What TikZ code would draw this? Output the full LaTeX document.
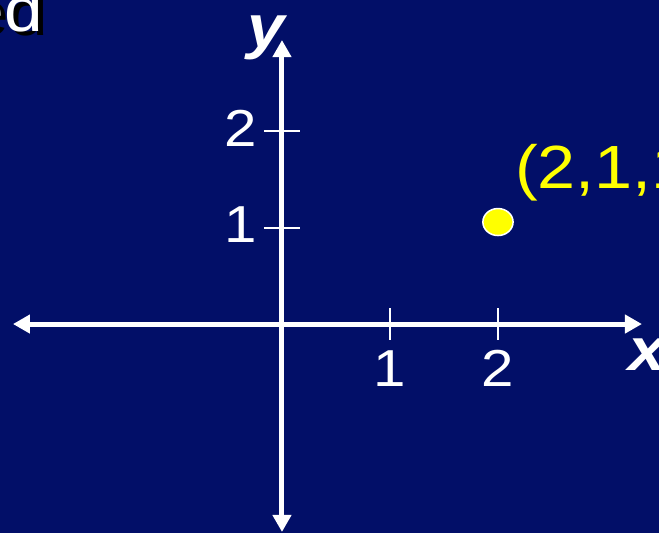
\documentclass[tikz,border=0pt]{standalone}
\usepackage{fontspec}
\setmainfont{Liberation Sans}
\usetikzlibrary{arrows.meta}
\definecolor{slidenavy}{RGB}{2,15,104}
\definecolor{pointyellow}{RGB}{255,255,0}
\tikzset{
	axisline/.style={
		draw=white,
		line width=5pt,
		{Triangle[length=17pt,width=18pt]}-{Triangle[length=17pt,width=18pt]}
	},
	tickmark/.style={draw=white, line width=2pt},
	stretched/.style={xscale=1.12},
	ticklabel/.style={stretched, text=white, inner sep=0pt, font=\fontsize{52}{60}\selectfont},
	axislabel/.style={stretched, text=white, inner sep=0pt, font=\fontsize{60}{70}\selectfont\bfseries\itshape},
	pointdot/.style={stretched, circle, fill=pointyellow, draw=white, line width=1.5pt, minimum size=27pt, inner sep=0pt},
	pointlabel/.style={stretched, text=pointyellow, inner sep=0pt, font=\fontsize{61}{70}\selectfont},
	titletext/.style={stretched, inner sep=0pt, font=\fontsize{62}{70}\selectfont}
}

\begin{document}
\begin{tikzpicture}[x=108pt,y=96.5pt]

	% Frame and background
	\clip (-2.611,-2.166) rectangle (3.491,3.358);
	\fill[slidenavy] (-2.611,-2.166) rectangle (3.491,3.358);

	% Cut-off title
	\node[titletext, text=black, anchor=base east] (titleshadow) at ([xshift=5pt,yshift=-4pt]-2.213,3.036) {ed};
	\node[titletext, text=white, anchor=base east] (title) at (-2.213,3.036) {ed};

	% Axes
	\coordinate (xmin) at (-2.491,0);
	\coordinate (xmax) at (3.333,0);
	\coordinate (ymin) at (0,-2.155);
	\coordinate (ymax) at (0,2.943);
	\draw[axisline] (xmin) -- (xmax);
	\draw[axisline] (ymin) -- (ymax);

	% Ticks
	\foreach \k in {1,2}{
		\draw[tickmark] ([yshift=16pt]\k,0) -- ([yshift=-16pt]\k,0);
		\node[ticklabel, anchor=base] (xtick\k) at ([yshift=-62pt]\k,0) {\k};
		\draw[tickmark] ([xshift=-18pt]0,\k) -- ([xshift=18pt]0,\k);
		\node[ticklabel, anchor=base east] (ytick\k) at ([xshift=-25pt,yshift=-15pt]0,\k) {\k};
	}

	% Axis names
	\node[axislabel, anchor=base west] (xname) at (3.204,-0.477) {x};
	\node[axislabel, anchor=base west] (yname) at (-0.324,2.870) {y};

	% Point
	\node[pointdot] (point) at (2,1.057) {};
	\node[pointlabel, anchor=base west] (pointname) at (2.157,1.409) {(2,1,1)};

\end{tikzpicture}
\end{document}
